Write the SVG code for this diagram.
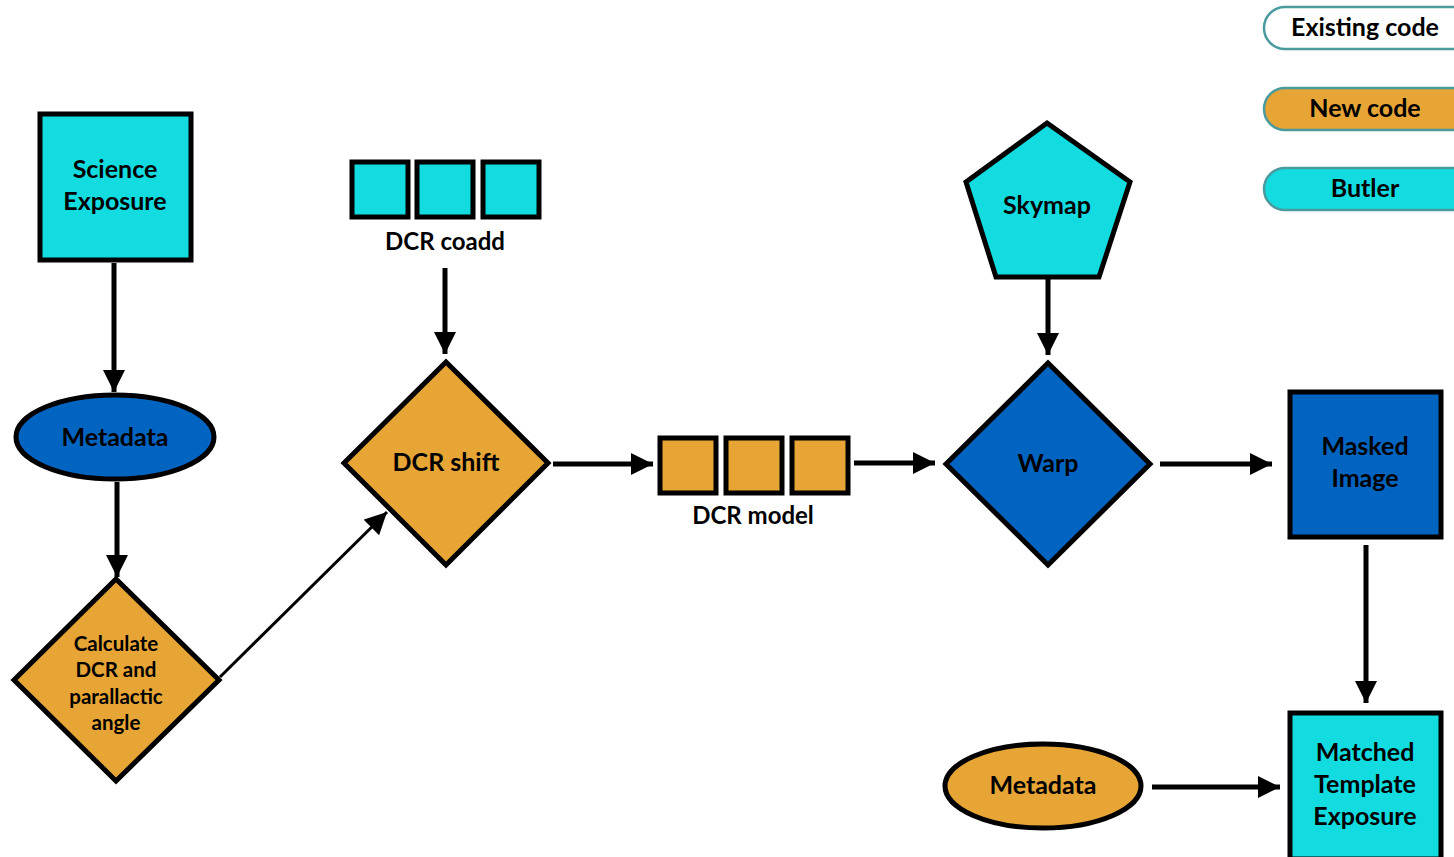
<svg xmlns="http://www.w3.org/2000/svg" width="1454" height="857" viewBox="0 0 1454 857">
<defs>
<style>
.t{font-family:Lato,"Open Sans","Liberation Sans",sans-serif;font-weight:bold;font-size:25px;fill:#000;text-anchor:middle;dominant-baseline:central}
.s{font-size:24px}
.k{font-size:20.5px}
.cy{fill:#12DCE0;stroke:#000;stroke-width:5}
.or{fill:#E6A535;stroke:#000;stroke-width:5}
.bl{fill:#0064C0;stroke:#000;stroke-width:5}
.lg{stroke:#4A9A9E;stroke-width:2.5}
.c{stroke:#000;stroke-width:5;fill:none}
.thin{stroke:#000;stroke-width:3;fill:none}
</style>
<marker id="ah" markerUnits="userSpaceOnUse" markerWidth="24" markerHeight="24" refX="22" refY="11" orient="auto">
<path d="M0,0 L22,11 L0,22 z" fill="#000"/>
</marker>
</defs>
<rect width="1454" height="857" fill="#fff"/>

<g id="legend-existing"><rect x="1264" y="7" width="210" height="42" rx="21" fill="#fff" class="lg"/><text class="t" x="1365" y="26">Existing code</text></g>
<g id="legend-new"><rect x="1264" y="88" width="210" height="42" rx="21" fill="#E6A535" class="lg"/><text class="t" x="1365" y="107">New code</text></g>
<g id="legend-butler"><rect x="1264" y="168" width="210" height="42" rx="21" fill="#12DCE0" class="lg"/><text class="t" x="1365" y="187">Butler</text></g>

<g id="connectors">
<line class="c" x1="114" y1="263" x2="114" y2="392" marker-end="url(#ah)"/>
<line class="c" x1="117" y1="482" x2="117" y2="577" marker-end="url(#ah)"/>
<line class="thin" x1="220" y1="677" x2="387" y2="512" marker-end="url(#ah)"/>
<line class="c" x1="445" y1="268" x2="445" y2="354" marker-end="url(#ah)"/>
<line class="c" x1="553" y1="464" x2="653" y2="464" marker-end="url(#ah)"/>
<line class="c" x1="854" y1="463" x2="935" y2="463" marker-end="url(#ah)"/>
<line class="c" x1="1048" y1="279" x2="1048" y2="355" marker-end="url(#ah)"/>
<line class="c" x1="1160" y1="464" x2="1272" y2="464" marker-end="url(#ah)"/>
<line class="c" x1="1366" y1="545" x2="1366" y2="703" marker-end="url(#ah)"/>
<line class="c" x1="1152" y1="787" x2="1280" y2="787" marker-end="url(#ah)"/>
</g>

<g id="science-exposure"><rect class="cy" x="40" y="114" width="151" height="146"/><text class="t" x="115" y="168">Science</text><text class="t" x="115" y="200">Exposure</text></g>

<g id="metadata-1"><ellipse class="bl" cx="115" cy="437" rx="99" ry="42"/><text class="t" x="115" y="436">Metadata</text></g>

<g id="calculate-dcr"><polygon class="or" points="116,579 219,680 116,781 14,680"/><text class="t k" x="116" y="643">Calculate</text><text class="t k" x="116" y="669">DCR and</text><text class="t k" x="116" y="696">parallactic</text><text class="t k" x="116" y="722">angle</text></g>

<g id="dcr-coadd"><rect class="cy" x="352" y="162" width="56" height="55"/><rect class="cy" x="417" y="162" width="56" height="55"/><rect class="cy" x="483" y="162" width="56" height="55"/><text class="t s" x="445" y="240">DCR coadd</text></g>

<g id="dcr-shift"><polygon class="or" points="446,362 548,463 446,565 344,463"/><text class="t" x="446" y="461">DCR shift</text></g>

<g id="dcr-model"><rect class="or" x="660" y="438" width="56" height="55"/><rect class="or" x="726" y="438" width="56" height="55"/><rect class="or" x="792" y="438" width="56" height="55"/><text class="t s" x="753" y="514">DCR model</text></g>

<g id="skymap"><polygon class="cy" points="1047,123 1130,182 1099,277 996,277 966,182"/><text class="t" x="1047" y="204">Skymap</text></g>

<g id="warp"><polygon class="bl" points="1048,363 1150,464 1048,565 946,464"/><text class="t" x="1048" y="462">Warp</text></g>

<g id="masked-image"><rect class="bl" x="1290" y="392" width="151" height="145"/><text class="t" x="1365" y="445">Masked</text><text class="t" x="1365" y="477">Image</text></g>

<g id="matched-template"><rect class="cy" x="1290" y="713" width="151" height="146"/><text class="t" x="1365" y="751">Matched</text><text class="t" x="1365" y="783">Template</text><text class="t" x="1365" y="815">Exposure</text></g>

<g id="metadata-2"><ellipse class="or" cx="1043" cy="786" rx="98" ry="42"/><text class="t" x="1043" y="784">Metadata</text></g>
</svg>
